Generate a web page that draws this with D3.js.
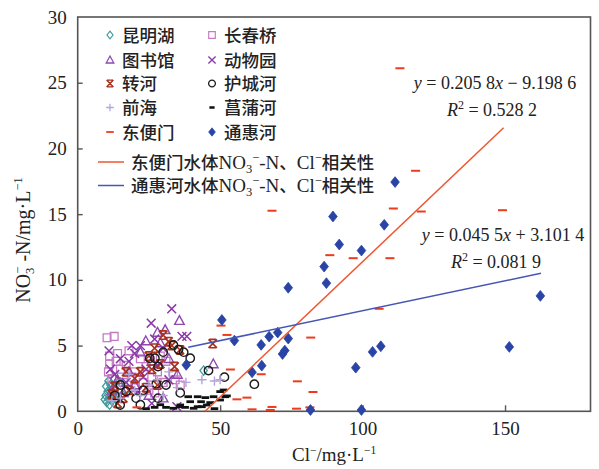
<!DOCTYPE html>
<html><head><meta charset="utf-8">
<script src="https://cdn.jsdelivr.net/npm/d3@7"></script>
<style>
html,body{margin:0;padding:0;background:#fff;}
svg{display:block;}
</style></head>
<body>
<svg id="c" width="599" height="469"></svg>
<script>
// ---- data (Cl- mg/L, NO3--N mg/L) ----
const xTicks = [0, 50, 100, 150];
const yTicks = [0, 5, 10, 15, 20, 25, 30];
const seriesNames = ["昆明湖","长春桥","图书馆","动物园","转河","护城河","前海","菖蒲河","东便门","通惠河"];

const kunminghu = [[10.2,0.7],[11,1.0],[10.5,1.5],[11.5,2.0],[12,0.8],[12.5,1.3],[10.8,2.3],[9.8,1.2],[13,1.8],[11.2,0.5],[12.8,2.5],[14,1.2],[10,1.9],[11.8,1.6],[13.5,0.9],[17,1.6],[44.2,3.1],[15,2.2],[9.5,0.9],[12.2,1.1]];
const changchunqiao = [[10.3,5.6],[12.8,5.7],[11.2,4.2],[11.2,3.6],[10.8,3.0],[12,2.5],[13.5,3.8],[15,3.2],[17,3.5],[18,4.6],[20,3.0],[22,4.0],[24,3.4],[26,2.6],[28,3.0],[30,2.2],[33.6,2.9],[34.2,2.4],[25,1.6],[20,1.8],[16,2.2],[29,4.2],[31,3.8],[36,2.0],[14,4.4],[19,2.6],[23,2.2],[27,1.4]];
const tushuguan = [[28,6.0],[23.9,5.35],[35.7,6.9],[30.7,6.2],[47.6,3.6],[22,4.5],[26,3.8],[18,3.0],[32,4.0],[14,2.4],[20,2.0],[25,1.2],[30,1.0],[35,2.8],[16,1.4],[29,5.2],[12,1.6]];
const dongwuyuan = [[33,7.8],[25.8,6.7],[38.3,5.7],[36.6,5.7],[22,5.0],[20,4.4],[18,3.8],[15,4.0],[11,4.6],[24,3.2],[28,3.5],[30,4.8],[27,5.5],[13,2.8],[17,2.2],[34.8,0.35],[26,0.6],[21,1.5],[32,2.4],[19,5.0],[11.5,3.2],[23,2.6]];
const zhuanhe = [[47.4,5.15],[31.9,5.3],[35.9,4.67],[27,4.8],[25,4.2],[29,3.6],[22,3.0],[20,2.5],[18,1.6],[16,1.0],[14,0.6],[13,1.9],[24,1.8],[30,5.8],[33,5.0],[28,2.0],[26,3.2],[17,3.0],[12,1.3],[34,3.4]];
const huchenghe = [[33.6,5.05],[35.4,4.7],[37.2,4.5],[39.5,4.04],[45.9,3.1],[51.5,2.6],[62,2.06],[25.3,4.04],[27.1,4.04],[28.2,3.4],[15,2.0],[13,1.2],[14.9,0.48],[20.5,1.0],[23,1.6],[27.6,2.1],[28.2,1.0],[31,2.0],[17,1.5],[22,0.5],[30,4.5],[36,1.4]];
const qianhai = [[43.6,2.4],[50,2.4],[48,2.3],[35,1.8],[30,1.2],[25,2.0],[20,1.6],[15,1.0],[12,0.8],[18,2.8],[28,2.4],[22,1.2],[38,2.2],[32,3.0]];
const changpuhe = [[42.1,1.11],[44.8,1.04],[39.5,0.73],[43.3,0.73],[45.3,0.48],[42.1,0.35],[35.9,0.35],[33.6,0.23],[50,0.86],[51.8,1.11],[38.8,1.11],[47.7,1.11],[50,1.5],[51.2,1.62],[52.4,1.17],[46.5,0.66],[36,0.48],[37.7,0.3],[40.7,0.23],[43.6,0.35],[27,0.3],[29,0.5],[31,0.3],[24,0.2],[48,0.2]];
const dongbianmen = [[113.1,26.1],[118.6,18.3],[68.2,15.26],[110.8,15.43],[120.6,15.2],[149.1,15.3],[88.5,11.88],[96.7,11.65],[109.6,11.65],[105.8,7.8],[81.8,5.61],[64.4,2.82],[77.1,2.28],[82.6,1.47],[50.3,6.52],[52.4,5.81],[53.6,3.18],[55.9,0.91],[59.4,1.04],[61.2,0.15],[68.2,0.33],[67.6,0.1],[76.8,0.2],[81.5,0.3],[20.8,0.3]];
const tonghuihe = [[111.4,17.44],[89.6,14.82],[107.6,14.19],[91.8,12.69],[99.6,12.23],[86.5,11.01],[87.3,9.75],[73.9,9.4],[162.4,8.78],[50.6,6.95],[64.4,5.05],[67.2,5.68],[70.2,5.99],[73.9,5.53],[71.9,4.36],[72.7,4.62],[64.6,3.47],[61.2,2.97],[97.6,3.32],[103.5,4.52],[106.4,4.95],[151.5,4.9],[81.7,0.1],[99.6,0.1],[55.0,5.38],[38.1,3.53]];

// fitted lines: slope, intercept, x-range
const fitDongbianmen = [0.2058, -9.1986, 44.7, 149.5];
const fitTonghuihe   = [0.0455, 3.1014, 38.8, 162.6];

// ---- layout ----
const svg = d3.select("#c");
const M = {l:77.7, r:590.5, t:17, b:411.3};
const x = d3.scaleLinear().domain([0,180]).range([M.l, M.r]);
const y = d3.scaleLinear().domain([0,30]).range([M.b, M.t]);
const serif = "'Liberation Serif','Times New Roman',serif";
const cjk = "'Noto Sans CJK SC','Noto Sans CJK JP',sans-serif";

// marker path generators (centered at 0,0)
const P = {
  diamond: s => `M0,${-s}L${s*0.8},0L0,${s}L${-s*0.8},0Z`,
  square: s => `M${-s},${-s}H${s}V${s}H${-s}Z`,
  triangle: s => `M0,${-s}L${s*0.95},${s*0.75}L${-s*0.95},${s*0.75}Z`,
  times: s => `M${-s},${-s}L${s},${s}M${-s},${s}L${s},${-s}`,
  star: s => `M${-s},${-s}L${s},${s}M${-s},${s}L${s},${-s}M${-s*0.8},${-s}H${s*0.8}M${-s*0.8},${s}H${s*0.8}`,
  circle: s => `M${s},0A${s},${s} 0 1 1 ${-s},0A${s},${s} 0 1 1 ${s},0Z`,
  plus: s => `M${-s},0H${s}M0,${-s}V${s}`,
  dash: s => `M${-s},0H${s}`
};
const styles = [
  {data:kunminghu,    shape:"diamond", s:4.6, color:"#3f9a9c", fill:"none", w:1.3, ls:3.8},
  {data:changchunqiao,shape:"square",  s:3.9, color:"#c67ac6", fill:"none", w:1.3, ls:3.3},
  {data:tushuguan,    shape:"triangle",s:5.0, color:"#8e48b0", fill:"none", w:1.4, ls:4.0},
  {data:dongwuyuan,   shape:"times",   s:4.4, color:"#8a3aa8", fill:"none", w:1.5, ls:3.6},
  {data:zhuanhe,      shape:"star",    s:4.2, color:"#a8301c", fill:"none", w:1.6, ls:3.4},
  {data:huchenghe,    shape:"circle",  s:4.2, color:"#1a1a1a", fill:"none", w:1.4, ls:3.4},
  {data:qianhai,      shape:"plus",    s:4.6, color:"#b4a4d8", fill:"none", w:1.4, ls:3.8},
  {data:changpuhe,    shape:"dash",    s:3.8, color:"#111111", fill:"none", w:2.8, ls:2.6},
  {data:dongbianmen,  shape:"dash",    s:4.5, color:"#ec3c1c", fill:"none", w:2.0, ls:3.8},
  {data:tonghuihe,    shape:"diamond", s:5.4, color:"#2a44a6", fill:"#2a44a6", w:0.8, ls:4.2}
];

// ---- frame ----
svg.append("rect").attr("x",M.l).attr("y",M.t).attr("width",M.r-M.l).attr("height",M.b-M.t)
  .attr("fill","none").attr("stroke","#555").attr("stroke-width",1.6);

// ticks (inside)
const gx = svg.append("g").attr("transform",`translate(0,${M.b})`)
  .call(d3.axisBottom(x).tickValues(xTicks).tickSize(-6).tickPadding(10).tickFormat(d3.format("d")));
const gy = svg.append("g").attr("transform",`translate(${M.l},0)`)
  .call(d3.axisLeft(y).tickValues(yTicks).tickSize(-5).tickPadding(11).tickFormat(d3.format("d")));
[gx,gy].forEach(g=>{
  g.select(".domain").remove();
  g.selectAll(".tick line").attr("stroke","#555").attr("stroke-width",1.4);
  g.selectAll(".tick text").attr("font-family",serif).attr("font-size",19).attr("fill","#222");
});
gx.selectAll(".tick").filter(d=>d===0).select("line").remove();
gy.selectAll(".tick").filter(d=>d===0||d===30).select("line").remove();

// ---- points ----
styles.forEach(st=>{
  svg.append("g").selectAll("path").data(st.data).join("path")
    .attr("transform",d=>`translate(${x(d[0])},${y(d[1])})`)
    .attr("d",P[st.shape](st.s))
    .attr("fill",st.fill).attr("stroke",st.color).attr("stroke-width",st.w)
    .attr("stroke-linecap","butt");
});

// ---- regression lines ----
const line = d3.line().x(d=>x(d[0])).y(d=>y(d[1]));
function fitPts(f){ return [[f[2], f[0]*f[2]+f[1]],[f[3], f[0]*f[3]+f[1]]]; }
svg.append("path").attr("d",line(fitPts(fitDongbianmen))).attr("stroke","#f0562e").attr("stroke-width",1.5).attr("fill","none");
svg.append("path").attr("d",line(fitPts(fitTonghuihe))).attr("stroke","#4656b4").attr("stroke-width",1.5).attr("fill","none");

// ---- legend ----
const legRows = [35, 60, 83.5, 107.5, 132];
styles.forEach((st,i)=>{
  const col = i%2, row = Math.floor(i/2);
  const mx = col===0 ? 110 : 212, tx = col===0 ? 122 : 224;
  const cy = legRows[row];
  svg.append("path").attr("transform",`translate(${mx},${cy})`).attr("d",P[st.shape](st.ls))
    .attr("fill",st.fill).attr("stroke",st.color).attr("stroke-width",st.w*0.9);
  svg.append("text").attr("x",tx).attr("y",cy+6.5).attr("font-family",cjk).attr("font-size",17.5)
    .attr("font-weight",500).attr("fill","#222").text(seriesNames[i]);
});
const lineLeg = [{name:"东便门", color:"#f0562e", cy:162},{name:"通惠河", color:"#4656b4", cy:185.5}];
lineLeg.forEach(l=>{
  svg.append("line").attr("x1",98).attr("x2",124).attr("y1",l.cy).attr("y2",l.cy).attr("stroke",l.color).attr("stroke-width",1.5);
  const t = svg.append("text").attr("x",131).attr("y",l.cy+6.5).attr("font-size",17.5).attr("fill","#222");
  t.append("tspan").attr("font-family",cjk).attr("font-weight",500).text(l.name+"水体");
  t.append("tspan").attr("font-family",serif).attr("font-size",19).text("NO");
  t.append("tspan").attr("font-family",serif).attr("font-size",12.5).attr("dy",4).text("3");
  t.append("tspan").attr("font-family",serif).attr("font-size",12.5).attr("dy",-11).text("−");
  t.append("tspan").attr("font-family",serif).attr("font-size",19).attr("dy",7).text("-N");
  t.append("tspan").attr("font-family",cjk).attr("font-weight",500).text("、");
  t.append("tspan").attr("font-family",serif).attr("font-size",19).text("Cl");
  t.append("tspan").attr("font-family",serif).attr("font-size",12.5).attr("dy",-7).text("−");
  t.append("tspan").attr("font-family",cjk).attr("font-weight",500).attr("dy",7).text("相关性");
});

// ---- equations ----
function eq(cx, by, parts){
  const t = svg.append("text").attr("x",cx).attr("y",by).attr("text-anchor","middle")
    .attr("font-family",serif).attr("font-size",18).attr("fill","#222");
  parts.forEach(p=>{
    const s = t.append("tspan").text(p[0]);
    if(p[1]==="i") s.attr("font-style","italic");
    if(p[1]==="sup") s.attr("font-size",12).attr("dy",-7);
    if(p[1]==="after") s.attr("dy",7);
  });
}
eq(495, 89, [["y","i"],[" = 0.205 8"],["x","i"],[" − 9.198 6"]]);
eq(492, 116, [["R","i"],["2","sup"],[" = 0.528 2","after"]]);
eq(503, 241, [["y","i"],[" = 0.045 5"],["x","i"],[" + 3.101 4"]]);
eq(496, 268, [["R","i"],["2","sup"],[" = 0.081 9","after"]]);

// ---- axis titles ----
const xt = svg.append("text").attr("x",(M.l+M.r)/2).attr("y",461).attr("text-anchor","middle")
  .attr("font-family",serif).attr("font-size",19).attr("fill","#222");
xt.append("tspan").text("Cl");
xt.append("tspan").attr("font-size",11.5).attr("dy",-7).text("−");
xt.append("tspan").attr("dy",7).text("/mg·L");
xt.append("tspan").attr("font-size",11.5).attr("dy",-7).text("−1");

const yt = svg.append("text").attr("transform","translate(30,240) rotate(-90)").attr("text-anchor","middle")
  .attr("font-family",serif).attr("font-size",20).attr("fill","#222");
yt.append("tspan").text("NO");
yt.append("tspan").attr("font-size",12.5).attr("dy",4).text("3");
yt.append("tspan").attr("font-size",12.5).attr("dy",-12).attr("dx",-6).text("−");
yt.append("tspan").attr("dy",8).text(" -N/mg·L");
yt.append("tspan").attr("font-size",12.5).attr("dy",-8).text("−1");
</script>
</body></html>
